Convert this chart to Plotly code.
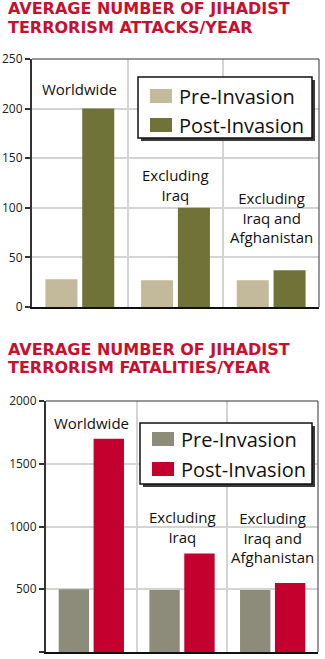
import plotly.graph_objects as go

# ---- data ----
categories = ["Worldwide", "Excluding Iraq", "Excluding Iraq and Afghanistan"]
cat_labels = ["Worldwide", "Excluding<br>Iraq", "Excluding<br>Iraq and<br>Afghanistan"]
series_names = ["Pre-Invasion", "Post-Invasion"]

attacks_pre = [28, 27, 27]
attacks_post = [200, 100, 37]
attacks_label_y = [220, 123, 90]
attacks_ticks = [0, 50, 100, 150, 200, 250]

fatal_pre = [500, 495, 495]
fatal_post = [1700, 785, 550]
fatal_label_y = [1825, 1000, 916]
fatal_ticks = [0, 500, 1000, 1500, 2000]

title_top = ["AVERAGE NUMBER OF JIHADIST", "TERRORISM ATTACKS/YEAR"]
title_bottom = ["AVERAGE NUMBER OF JIHADIST", "TERRORISM FATALITIES/YEAR"]

# ---- style ----
W, H = 325, 659
C_PRE1, C_POST1 = "#c3ba9b", "#6f7337"
C_PRE2, C_POST2 = "#8d8c7b", "#c4002f"
RED = "#c8102e"
GRID = "#d4d4d4"
FONT = "Open Sans"


def px(x):
    return x / W


def py(y):
    return 1 - y / H


fig = go.Figure()
fig.add_trace(go.Bar(x=categories, y=attacks_pre, name=series_names[0], marker=dict(color=C_PRE1, line_width=0),
                     xaxis="x", yaxis="y", showlegend=False))
fig.add_trace(go.Bar(x=categories, y=attacks_post, name=series_names[1], marker=dict(color=C_POST1, line_width=0),
                     xaxis="x", yaxis="y", showlegend=False))
fig.add_trace(go.Bar(x=categories, y=fatal_pre, name=series_names[0], marker=dict(color=C_PRE2, line_width=0),
                     xaxis="x2", yaxis="y2", showlegend=False))
fig.add_trace(go.Bar(x=categories, y=fatal_post, name=series_names[1], marker=dict(color=C_POST2, line_width=0),
                     xaxis="x2", yaxis="y2", showlegend=False))

xcommon = dict(type="category", showticklabels=False, ticks="", showgrid=True, gridcolor=GRID, gridwidth=1.5,
               tickson="boundaries", showline=True, linecolor="#111", linewidth=2, fixedrange=True)
ycommon = dict(showgrid=True, gridcolor=GRID, gridwidth=1.5, zeroline=False, showline=True, linecolor="#333",
               linewidth=2, ticks="outside", ticklen=5, tickwidth=1.5, tickcolor="#333",
               tickfont=dict(family=FONT, size=12, color="#222"), fixedrange=True)

fig.update_layout(
    width=W, height=H, margin=dict(l=0, r=0, t=0, b=0, autoexpand=False), autosize=False,
    paper_bgcolor="white", plot_bgcolor="white",
    barmode="group", bargap=0.23, bargroupgap=0.13,
    showlegend=False,
    xaxis=dict(domain=[px(32), px(319)], anchor="y", **xcommon),
    yaxis=dict(domain=[py(307), py(59)], anchor="x", range=[0, 250], tickvals=attacks_ticks, **ycommon),
    xaxis2=dict(domain=[px(46), px(318)], anchor="y2", **xcommon),
    yaxis2=dict(domain=[py(652), py(401)], anchor="x2", range=[0, 2000], tickvals=fatal_ticks, **ycommon),
)

shapes = []
annotations = []

# plot borders (top and right thin lines)
for xa, ya in (("x", "y"), ("x2", "y2")):
    shapes.append(dict(type="line", xref=f"{xa} domain", yref=f"{ya} domain", x0=0, x1=1, y0=1, y1=1,
                       line=dict(color="#333", width=1.2)))
    shapes.append(dict(type="line", xref=f"{xa} domain", yref=f"{ya} domain", x0=1, x1=1, y0=0, y1=1,
                       line=dict(color="#555", width=1.2)))

# category labels inside plots
for xa, ya, ys in (("x", "y", attacks_label_y), ("x2", "y2", fatal_label_y)):
    for cat, lab, yv in zip(categories, cat_labels, ys):
        annotations.append(dict(x=cat, y=yv, xref=xa, yref=ya, text=lab, showarrow=False,
                                xanchor="center", yanchor="middle",
                                font=dict(family=FONT, size=15, color="#111")))

# titles (one annotation per line for exact line spacing)
for lines, centers in ((title_top, (9, 28)), (title_bottom, (349, 367))):
    for txt, yc in zip(lines, centers):
        annotations.append(dict(x=px(6), y=py(yc), xref="paper", yref="paper", text="<b>" + txt + "</b>",
                                showarrow=False, xanchor="left", yanchor="middle", align="left",
                                font=dict(family="DejaVu Sans", size=16, color=RED)))


# legends (drawn boxes)
def legend(box, sw_y, colors):
    x0, y0, x1, y1 = box
    shapes.append(dict(type="rect", xref="paper", yref="paper", x0=px(x0 + 3), x1=px(x1 + 3), y0=py(y1 + 3),
                       y1=py(y0 + 3), fillcolor="#3a3a3a", line=dict(width=0)))
    shapes.append(dict(type="rect", xref="paper", yref="paper", x0=px(x0), x1=px(x1), y0=py(y1), y1=py(y0),
                       fillcolor="white", line=dict(color="#111", width=1.5)))
    for name, col, yc in zip(series_names, colors, sw_y):
        shapes.append(dict(type="rect", xref="paper", yref="paper", x0=px(x0 + 12), x1=px(x0 + 34),
                           y0=py(yc + 7), y1=py(yc - 7), fillcolor=col, line=dict(width=0)))
        annotations.append(dict(x=px(x0 + 39), y=py(yc), xref="paper", yref="paper", text=name,
                                showarrow=False, xanchor="left", yanchor="middle",
                                font=dict(family=FONT, size=20, color="#111")))


legend((138, 77, 312, 138), (96, 125), (C_PRE1, C_POST1))
legend((140, 423, 312, 484), (439, 469), (C_PRE2, C_POST2))

fig.update_layout(shapes=shapes, annotations=annotations)
fig.write_html("out.html", config={"responsive": False, "displayModeBar": False},
               post_script="document.body.style.margin='0';")
